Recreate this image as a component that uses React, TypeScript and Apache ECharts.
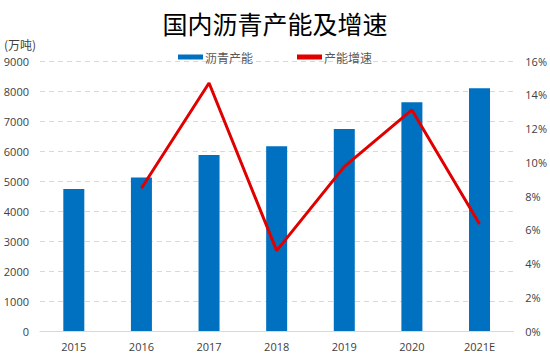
import React, { useEffect, useRef } from "react";
import * as echarts from "echarts";

const categories = ["2015", "2016", "2017", "2018", "2019", "2020", "2021E"];
const capacity = [4730, 5120, 5870, 6160, 6730, 7625, 8090];
const growth = [null, 8.46, 14.7, 4.76, 9.74, 13.1, 6.34];
const leftTicks = [0, 9000, 1000];
const rightTicks = [0, 16, 2];

export default function App() {
  const ref = useRef<HTMLDivElement>(null);
  useEffect(() => {
    const chart = echarts.init(ref.current!, null, { renderer: "svg" });
    const font = "'Open Sans', 'Noto Sans CJK SC', sans-serif";
    chart.setOption({
      animation: false,
      textStyle: { fontFamily: font },
      title: {
        text: "国内沥青产能及增速",
        left: "center",
        top: 5,
        textStyle: { fontFamily: "'Noto Sans CJK SC'", fontSize: 25, fontWeight: "normal", color: "#000" },
      },
      legend: {
        top: 46,
        left: "center",
        itemGap: 44,
        itemWidth: 25,
        itemHeight: 5,
        textStyle: { fontFamily: "'Noto Sans CJK SC'", fontSize: 12, color: "#595959", padding: [0, 0, 0, -3] },
        data: [
          { name: "沥青产能", icon: "rect" },
          { name: "产能增速", icon: "rect", itemStyle: { color: "#e00000" } },
        ],
      },
      grid: { left: 40, right: 35, top: 61, bottom: 25 },
      xAxis: {
        type: "category",
        data: categories,
        axisTick: { show: false },
        axisLine: { lineStyle: { color: "#d9d9d9", width: 1 } },
        axisLabel: { color: "#404040", fontSize: 11, margin: 10 },
      },
      yAxis: [
        {
          type: "value",
          min: leftTicks[0],
          max: leftTicks[1],
          interval: leftTicks[2],
          name: "(万吨)",
          nameLocation: "end",
          nameGap: 11,
          nameTextStyle: { align: "left", padding: [0, 0, 0, -36], color: "#404040", fontSize: 12, fontFamily: "'Noto Sans CJK SC'" },
          axisLabel: { color: "#404040", fontSize: 11, margin: 11, formatter: (v: number) => String(v) },
          splitLine: { lineStyle: { color: "#d9d9d9", type: [5, 4] } },
          axisLine: { show: false },
          axisTick: { show: false },
        },
        {
          type: "value",
          min: rightTicks[0],
          max: rightTicks[1],
          interval: rightTicks[2],
          axisLabel: { color: "#404040", fontSize: 11, margin: 12, formatter: "{value}%" },
          splitLine: { show: false },
          axisLine: { show: false },
          axisTick: { show: false },
        },
      ],
      series: [
        {
          name: "沥青产能",
          type: "bar",
          data: capacity,
          barWidth: 21,
          itemStyle: { color: "#0070c0" },
        },
        {
          name: "产能增速",
          type: "line",
          yAxisIndex: 1,
          data: growth,
          symbol: "none",
          lineStyle: { color: "#e00000", width: 3 },
          itemStyle: { color: "#e00000" },
        },
      ],
    });
    return () => chart.dispose();
  }, []);
  return <div ref={ref} style={{ width: 550, height: 356, position: "absolute", left: 0, top: 0 }} />;
}
